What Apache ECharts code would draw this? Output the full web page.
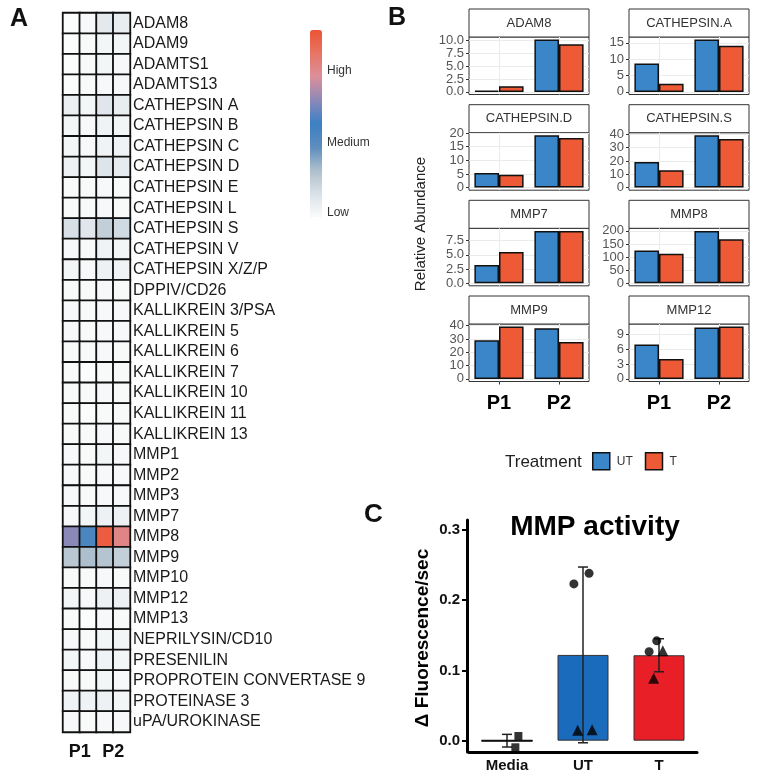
<!DOCTYPE html>
<html lang="en">
<head>
<meta charset="UTF-8">
<title>Protease panels</title>
<style>
  html, body { margin: 0; padding: 0; background: #fff; }
  #chart { width: 759px; height: 777px; }
</style>
</head>
<body>
<div id="chart"></div>
<script src="https://cdn.jsdelivr.net/npm/echarts@6/dist/echarts.min.js"></script>
<script>
// ---------- panel A : protease array heatmap ----------
var proteases = ['ADAM8', 'ADAM9', 'ADAMTS1', 'ADAMTS13', 'CATHEPSIN A', 'CATHEPSIN B', 'CATHEPSIN C',
  'CATHEPSIN D', 'CATHEPSIN E', 'CATHEPSIN L', 'CATHEPSIN S', 'CATHEPSIN V', 'CATHEPSIN X/Z/P',
  'DPPIV/CD26', 'KALLIKREIN 3/PSA', 'KALLIKREIN 5', 'KALLIKREIN 6', 'KALLIKREIN 7', 'KALLIKREIN 10',
  'KALLIKREIN 11', 'KALLIKREIN 13', 'MMP1', 'MMP2', 'MMP3', 'MMP7', 'MMP8', 'MMP9', 'MMP10', 'MMP12',
  'MMP13', 'NEPRILYSIN/CD10', 'PRESENILIN', 'PROPROTEIN CONVERTASE 9', 'PROTEINASE 3', 'uPA/UROKINASE'];
var heatCols = ['P1 UT', 'P1 T', 'P2 UT', 'P2 T'];
var heatPatients = ['P1', 'P2'];
// relative level 0 (low) .. 1 (high), one row per protease, columns as heatCols
var heatValues = [
  [0.00, 0.02, 0.09, 0.07], [0.00, 0.01, 0.03, 0.03], [0.00, 0.01, 0.03, 0.02], [0.00, 0.01, 0.02, 0.02],
  [0.06, 0.03, 0.10, 0.07], [0.03, 0.02, 0.04, 0.03], [0.03, 0.02, 0.04, 0.04], [0.05, 0.03, 0.11, 0.08],
  [0.01, 0.01, 0.02, 0.01], [0.01, 0.01, 0.02, 0.01], [0.13, 0.10, 0.19, 0.15], [0.02, 0.01, 0.04, 0.03],
  [0.03, 0.02, 0.05, 0.04], [0.01, 0.01, 0.02, 0.01], [0.02, 0.01, 0.02, 0.02], [0.02, 0.01, 0.02, 0.02],
  [0.01, 0.01, 0.02, 0.01], [0.01, 0.00, 0.01, 0.01], [0.01, 0.01, 0.02, 0.01], [0.01, 0.00, 0.01, 0.01],
  [0.01, 0.01, 0.02, 0.01], [0.02, 0.01, 0.03, 0.02], [0.02, 0.01, 0.02, 0.02], [0.02, 0.01, 0.02, 0.02],
  [0.02, 0.03, 0.05, 0.05], [0.62, 0.44, 0.97, 0.80], [0.22, 0.25, 0.23, 0.19], [0.01, 0.01, 0.02, 0.01],
  [0.03, 0.02, 0.05, 0.05], [0.01, 0.00, 0.02, 0.01], [0.02, 0.01, 0.03, 0.03], [0.03, 0.02, 0.04, 0.03],
  [0.01, 0.01, 0.03, 0.02], [0.04, 0.04, 0.05, 0.03], [0.02, 0.01, 0.02, 0.02]
];
var heatScaleLabels = ['High', 'Medium', 'Low'];

// ---------- panel B : relative abundance facets ----------
var facetNames = ['ADAM8', 'CATHEPSIN.A', 'CATHEPSIN.D', 'CATHEPSIN.S', 'MMP7', 'MMP8', 'MMP9', 'MMP12'];
var patients = ['P1', 'P2'];
var utAbundance = [[0.2, 10.2], [8.7, 16.0], [5.4, 19.2], [19.3, 39.3], [3.2, 9.2], [125, 200], [29, 38], [6.9, 10.3]];
var tAbundance = [[1.1, 9.3], [2.5, 14.1], [4.7, 18.2], [13.1, 36.5], [5.5, 9.2], [113, 168], [39.3, 27.7], [4.0, 10.5]];
var facetTicks = [[0, 2.5, 5, 7.5, 10], [0, 5, 10, 15], [0, 5, 10, 15, 20], [0, 10, 20, 30, 40],
  [0, 2.5, 5, 7.5], [0, 50, 100, 150, 200], [0, 10, 20, 30, 40], [0, 3, 6, 9]];

// ---------- panel C : MMP activity ----------
var mmpGroups = ['Media', 'UT', 'T'];
var mmpMean = [0, 0.122, 0.1215];
var mmpSd = [0.009, 0.125, 0.0235];
var mmpTicks = [0, 0.1, 0.2, 0.3];
// replicate points: group index + jitter, value, marker
var pointX = [0.15, 0.11, 0.88, 1.08, 0.93, 1.12, 1.87, 1.97, 2.05, 1.93];
var pointY = [0.0067, -0.0094, 0.223, 0.238, 0.015, 0.0155, 0.1266, 0.142, 0.128, 0.0888];
var pointShape = ['rect', 'rect', 'circle', 'circle', 'triangle', 'triangle', 'circle', 'circle', 'triangle', 'triangle'];

var FONT = '"Liberation Sans", Arial, sans-serif';
var heatColors = ['#fbfcfc', '#d9e1e7', '#adbfcc', '#5d8cbd', '#3c80c4', '#8c89b8', '#dc8f9a', '#e77565', '#ec5434'];
var blue = '#3b86c9', red = '#ee5a35';

var grids = [], xAxes = [], yAxes = [], series = [], graphics = [];

// panel A
grids.push({ left: 63, top: 13, width: 67, height: 719 });
xAxes.push({ type: 'category', gridIndex: 0, data: heatCols, show: false, position: 'bottom' });
xAxes.push({ type: 'category', gridIndex: 0, data: heatPatients, position: 'bottom',
  axisLine: { show: false }, axisTick: { show: false },
  axisLabel: { fontFamily: FONT, fontWeight: 'bold', fontSize: 18, color: '#111', margin: 11 } });
yAxes.push({ type: 'category', gridIndex: 0, data: proteases, inverse: true, position: 'right',
  axisLine: { show: false }, axisTick: { show: false },
  axisLabel: { interval: 0, fontFamily: FONT, fontSize: 16, color: '#1a1a1a', margin: 3 } });
var heatData = [];
heatValues.forEach(function (row, r) {
  row.forEach(function (v, c) { heatData.push([c, r, v]); });
});
series.push({ type: 'heatmap', xAxisIndex: 0, yAxisIndex: 0, data: heatData,
  itemStyle: { borderColor: '#111', borderWidth: 1.8 }, emphasis: { disabled: true } });

// panel B facets
var facetCols = [469, 629], facetRows = [37, 132.7, 228.3, 324];
var facetW = 120, facetH = 57.5, stripH = 28;
facetNames.forEach(function (name, i) {
  var col = i % 2, row = Math.floor(i / 2), bottomRow = row === 3;
  var left = facetCols[col], top = facetRows[row];
  var g = grids.length;
  grids.push({ left: left, top: top, width: facetW, height: facetH, show: true,
    borderColor: '#333', borderWidth: 1, backgroundColor: '#fff' });
  var top_ = Math.max.apply(null, utAbundance[i].concat(tAbundance[i]));
  var ticks = facetTicks[i];
  var decimals = ticks.some(function (t) { return t % 1 !== 0; }) ? 1 : 0;
  // vertical grid lines at the category centres
  xAxes.push({ type: 'value', gridIndex: g, min: 0.5, max: 2.5, position: 'top',
    axisLine: { show: false, onZero: false }, axisLabel: { show: false },
    axisTick: { show: false, customValues: [1, 2] },
    splitLine: { show: true, lineStyle: { color: '#ebebeb', width: 1 } } });
  var xi = xAxes.length;
  xAxes.push({ type: 'category', gridIndex: g, data: patients, position: 'bottom',
    axisLine: { show: false, onZero: false },
    axisTick: { show: bottomRow, alignWithLabel: true, length: 3, lineStyle: { color: '#333' } },
    axisLabel: { show: bottomRow, fontFamily: FONT, fontWeight: 'bold', fontSize: 20, color: '#000', margin: 12 } });
  var yi = yAxes.length;
  yAxes.push({ type: 'value', gridIndex: g, min: -0.05 * top_, max: 1.05 * top_,
    axisLine: { show: false, onZero: false },
    axisTick: { show: true, length: 3, customValues: ticks, lineStyle: { color: '#333' } },
    axisLabel: { customValues: ticks, fontFamily: FONT, fontSize: 13, color: '#555', margin: 5,
      formatter: function (v) { return v.toFixed(decimals); } },
    splitLine: { show: true, lineStyle: { color: '#ebebeb', width: 1 } } });
  series.push({ type: 'bar', name: 'UT', xAxisIndex: xi, yAxisIndex: yi, data: utAbundance[i],
    barGap: '0%', barCategoryGap: '18%',
    itemStyle: { color: blue, borderColor: '#111', borderWidth: 1.5 } });
  series.push({ type: 'bar', name: 'T', xAxisIndex: xi, yAxisIndex: yi, data: tAbundance[i],
    barGap: '0%', barCategoryGap: '18%',
    itemStyle: { color: red, borderColor: '#111', borderWidth: 1.5 } });
  graphics.push({ type: 'rect', shape: { x: left, y: top - stripH, width: facetW, height: stripH },
    style: { fill: '#fff', stroke: '#333', lineWidth: 1 } });
  graphics.push({ type: 'text', x: left + facetW / 2, y: top - stripH / 2,
    style: { text: name, font: '13px ' + FONT, fill: '#333', align: 'center', verticalAlign: 'middle' } });
});

// panel C
var gc = grids.length;
grids.push({ left: 469, top: 520, width: 228, height: 232 });
var xcat = xAxes.length;
xAxes.push({ type: 'category', gridIndex: gc, data: mmpGroups, position: 'bottom',
  axisLine: { onZero: false, lineStyle: { color: '#000', width: 3 } }, axisTick: { show: false },
  axisLabel: { fontFamily: FONT, fontWeight: 'bold', fontSize: 15, color: '#111', margin: 6 } });
var xjit = xAxes.length;
xAxes.push({ type: 'value', gridIndex: gc, min: -0.5, max: 2.5, show: false, position: 'top',
  axisLine: { onZero: false } });
var yc = yAxes.length;
yAxes.push({ type: 'value', gridIndex: gc, min: -0.0161, max: 0.3139, offset: 2, position: 'left',
  axisLine: { show: true, onZero: false, lineStyle: { color: '#000', width: 3 } },
  axisTick: { show: true, inside: false, length: 5, customValues: mmpTicks, lineStyle: { color: '#000', width: 2 } },
  axisLabel: { customValues: mmpTicks, fontFamily: FONT, fontWeight: 'bold', fontSize: 15, color: '#111', margin: 7,
    formatter: function (v) { return v.toFixed(1); } },
  splitLine: { show: false } });
series.push({ type: 'bar', xAxisIndex: xcat, yAxisIndex: yc, barWidth: 51,
  data: mmpMean.map(function (m, i) {
    return { value: m, itemStyle: { color: ['#1b6bbd', '#1b6bbd', '#e81f27'][i] } };
  }),
  itemStyle: { borderColor: '#333', borderWidth: 1 } });
series.push({ type: 'custom', xAxisIndex: xcat, yAxisIndex: yc, z: 5,
  data: mmpMean.map(function (m, i) { return [i, m, mmpSd[i]]; }),
  encode: { x: 0, y: 1 },
  renderItem: function (params, api) {
    var i = api.value(0), m = api.value(1), s = api.value(2);
    var hi = api.coord([i, m + s]), lo = api.coord([i, m - s]), mid = api.coord([i, m]);
    var st = { stroke: '#222', lineWidth: 1.5 };
    var kids = [
      { type: 'line', shape: { x1: hi[0], y1: hi[1], x2: lo[0], y2: lo[1] }, style: st },
      { type: 'line', shape: { x1: hi[0] - 5, y1: hi[1], x2: hi[0] + 5, y2: hi[1] }, style: st },
      { type: 'line', shape: { x1: lo[0] - 5, y1: lo[1], x2: lo[0] + 5, y2: lo[1] }, style: st }
    ];
    if (m === 0) {
      kids.push({ type: 'line', shape: { x1: mid[0] - 25.5, y1: mid[1], x2: mid[0] + 25.5, y2: mid[1] },
        style: { stroke: '#111', lineWidth: 2 } });
    }
    return { type: 'group', children: kids };
  } });
var markerSize = { rect: 8, circle: 9, triangle: 11 };
series.push({ type: 'scatter', xAxisIndex: xjit, yAxisIndex: yc, z: 6,
  data: pointX.map(function (x, k) {
    return { value: [x, pointY[k]], symbol: pointShape[k], symbolSize: markerSize[pointShape[k]] };
  }),
  itemStyle: { color: '#000' } });

// labels and decorations
graphics.push(
  { type: 'text', x: 10, y: 7, style: { text: 'A', font: 'bold 25px ' + FONT, fill: '#111' } },
  { type: 'text', x: 388, y: 6, style: { text: 'B', font: 'bold 25px ' + FONT, fill: '#111' } },
  { type: 'text', x: 364, y: 502, style: { text: 'C', font: 'bold 26px ' + FONT, fill: '#111' } },
  { type: 'text', x: 327, y: 71, style: { text: heatScaleLabels[0], font: '12px ' + FONT, fill: '#333', verticalAlign: 'middle' } },
  { type: 'text', x: 327, y: 143, style: { text: heatScaleLabels[1], font: '12px ' + FONT, fill: '#333', verticalAlign: 'middle' } },
  { type: 'text', x: 327, y: 213, style: { text: heatScaleLabels[2], font: '12px ' + FONT, fill: '#333', verticalAlign: 'middle' } },
  { type: 'text', x: 421, y: 224, rotation: Math.PI / 2,
    style: { text: 'Relative Abundance', font: '15px ' + FONT, fill: '#222', align: 'center', verticalAlign: 'middle' } },
  { type: 'text', x: 505, y: 462,
    style: { text: 'Treatment', font: '17px ' + FONT, fill: '#222', verticalAlign: 'middle' } },
  { type: 'text', x: 595, y: 527,
    style: { text: 'MMP activity', font: 'bold 28px ' + FONT, fill: '#000', align: 'center', verticalAlign: 'middle' } },
  { type: 'text', x: 423, y: 638, rotation: Math.PI / 2,
    style: { text: '\u0394 Fluorescence/sec', font: 'bold 19px ' + FONT, fill: '#000', align: 'center', verticalAlign: 'middle' } }
);

var chart = echarts.init(document.getElementById('chart'));
chart.setOption({
  animation: false,
  backgroundColor: '#fff',
  grid: grids,
  xAxis: xAxes,
  yAxis: yAxes,
  visualMap: {
    type: 'continuous', seriesIndex: 0, min: 0, max: 1, calculable: false, show: true,
    orient: 'vertical', left: 295, top: 15, itemWidth: 12, itemHeight: 187, text: null,
    inRange: { color: heatColors }
  },
  legend: {
    data: ['UT', 'T'], left: 587, top: 447, itemWidth: 17, itemHeight: 17, itemGap: 12, icon: 'rect',
    itemStyle: { borderColor: '#111', borderWidth: 1.5 },
    textStyle: { fontFamily: FONT, fontSize: 12, color: '#333', padding: [0, 0, 0, 2] }
  },
  graphic: graphics,
  series: series
});
</script>
</body>
</html>
